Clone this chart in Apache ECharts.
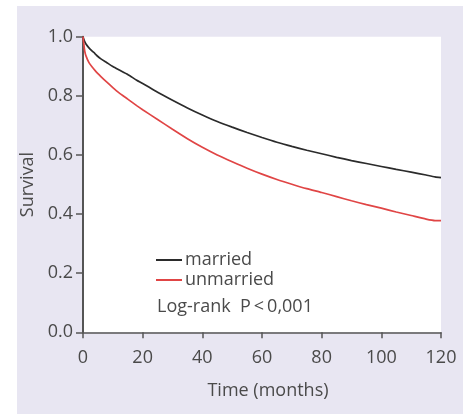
<!DOCTYPE html>
<html>
<head>
<meta charset="utf-8">
<script src="https://cdn.jsdelivr.net/npm/echarts@6/dist/echarts.min.js"></script>
<style>
html,body{margin:0;padding:0;background:#fff;}
#c{width:468px;height:414px;}
</style>
</head>
<body>
<div id="c"></div>
<script>
var timeMarried = [0,0.5,1,2,3,4,5,6,8,10,12,15,18,20,25,30,35,40,45,50,55,60,65,70,75,80,85,90,95,100,105,110,115,118,120];
var married = [1.0,0.985,0.975,0.962,0.952,0.943,0.933,0.925,0.912,0.899,0.888,0.872,0.853,0.842,0.812,0.785,0.759,0.735,0.713,0.694,0.676,0.659,0.643,0.629,0.616,0.604,0.592,0.581,0.571,0.561,0.551,0.542,0.532,0.526,0.523];
var timeUnmarried = [0,0.3,0.6,1,2,3,4,5,6,8,10,12,15,18,20,25,30,35,40,45,50,55,60,65,70,75,80,85,90,95,100,105,110,115,118,120];
var unmarried = [1.0,0.972,0.95,0.935,0.912,0.898,0.886,0.875,0.865,0.846,0.828,0.811,0.789,0.767,0.753,0.72,0.687,0.655,0.626,0.6,0.577,0.555,0.535,0.517,0.501,0.486,0.473,0.459,0.445,0.432,0.42,0.407,0.395,0.383,0.378,0.378];
var seriesNames = ['married','unmarried'];
var xTicks = [0,20,40,60,80,100,120];
var yTicks = [0.0,0.2,0.4,0.6,0.8,1.0];
var annotation = 'Log-rank  P\u2009<\u20090,001';

function pairs(t, v){ return t.map(function(x,i){ return [x, v[i]]; }); }

var FONT = '"Open Sans", "Noto Sans", sans-serif';
var TXT = '#4a4a4a';
var chart = echarts.init(document.getElementById('c'), null, {renderer:'canvas'});
chart.setOption({
  animation:false,
  backgroundColor:'#ffffff',
  graphic:[
    {type:'rect', z:-10, shape:{x:17,y:6,width:446,height:408}, style:{fill:'#e8e6f2'}},
    {type:'text', left:157, top:298, style:{text:annotation, font:'18px '+FONT, fill:TXT}}
  ],
  grid:{left:83, right:27, top:36.7, bottom:81.7, show:true, backgroundColor:'#ffffff', borderWidth:0},
  legend:{
    orient:'vertical', left:156, top:251, itemWidth:26, itemHeight:2, itemGap:2, padding:0,
    icon:'rect',
    textStyle:{fontFamily:FONT, fontSize:18, color:TXT, padding:[0,0,0,-2]},
    data:seriesNames
  },
  xAxis:{
    type:'value', min:0, max:120, interval:20,
    name:'Time (months)', nameLocation:'middle', nameGap:50,
    nameTextStyle:{fontFamily:FONT, fontSize:18, color:TXT, padding:[0,0,0,12]},
    axisLine:{show:true, onZero:false, lineStyle:{color:'#555', width:1.5}},
    axisTick:{show:true, length:6, lineStyle:{color:'#555', width:1.5}},
    axisLabel:{fontFamily:FONT, fontSize:18, color:TXT, margin:17},
    splitLine:{show:false}
  },
  yAxis:{
    type:'value', min:0, max:1, interval:0.2,
    name:'Survival', nameLocation:'middle', nameGap:30, nameRotate:90,
    nameTextStyle:{fontFamily:FONT, fontSize:18, color:TXT, padding:[10,0,0,0]},
    axisLine:{show:true, onZero:false, lineStyle:{color:'#555', width:2}},
    axisTick:{show:true, length:7, lineStyle:{color:'#555', width:1.5}},
    axisLabel:{fontFamily:FONT, fontSize:18, color:TXT, margin:10,
      formatter:function(v){ return v.toFixed(1); }},
    splitLine:{show:false}
  },
  series:[
    {name:seriesNames[0], type:'line', data:pairs(timeMarried, married), showSymbol:false, smooth:0.2,
     lineStyle:{color:'#2b2b2b', width:1.7}, itemStyle:{color:'#2b2b2b'}},
    {name:seriesNames[1], type:'line', data:pairs(timeUnmarried, unmarried), showSymbol:false, smooth:0.2,
     lineStyle:{color:'#e04545', width:1.7}, itemStyle:{color:'#e04545'}}
  ]
});
</script>
</body>
</html>
